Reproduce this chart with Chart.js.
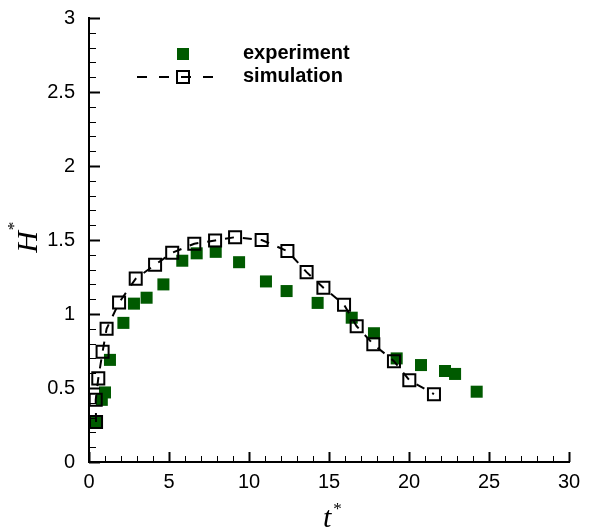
<!DOCTYPE html>
<html>
<head>
<meta charset="utf-8">
<script src="https://cdn.jsdelivr.net/npm/chart.js@4"></script>
<style>
  html, body { margin: 0; padding: 0; background: #fff; }
  canvas { display: block; }
</style>
</head>
<body>
<canvas id="chart" width="590" height="531"></canvas>
<script>
// data
const expT = [0.44, 0.8, 1.0, 1.31, 2.15, 2.81, 3.6, 4.65, 5.83, 6.73, 7.92, 9.38, 11.06, 12.35, 14.29, 16.42, 17.81, 19.23, 20.75, 22.25, 22.88, 24.23]
const expH = [0.27, 0.42, 0.47, 0.69, 0.94, 1.07, 1.11, 1.20, 1.36, 1.41, 1.42, 1.35, 1.22, 1.155, 1.075, 0.975, 0.87, 0.70, 0.655, 0.615, 0.595, 0.475]

const simT = [0.44, 0.42, 0.58, 0.85, 1.1, 1.88, 2.92, 4.13, 5.2, 6.58, 7.88, 9.13, 10.79, 12.4, 13.6, 14.65, 15.94, 16.73, 17.77, 19.06, 20.02, 21.56]
const simH = [0.27, 0.42, 0.565, 0.745, 0.90, 1.077, 1.239, 1.333, 1.414, 1.475, 1.497, 1.519, 1.50, 1.425, 1.283, 1.178, 1.063, 0.917, 0.796, 0.681, 0.553, 0.458]

const xTicks = [0, 5, 10, 15, 20, 25, 30]
const yTicks = [0, 0.5, 1, 1.5, 2, 2.5, 3]

const green = '#005a00'
const tickFont = { family: '"Liberation Sans", Arial, sans-serif', size: 20 }

const toPoints = (xs, ys) => xs.map((x, i) => ({ x: x, y: ys[i] }))

// inward ticks, axis titles and legend
const decor = {
  id: 'decor',
  afterDraw(chart) {
    const c = chart.ctx
    const xs = chart.scales.x
    const ys = chart.scales.y
    const area = chart.chartArea
    c.save()
    c.strokeStyle = '#000'
    // x ticks (minor every 1)
    for (let v = 0; v <= 30; v++) {
      const px = Math.round(xs.getPixelForValue(v)) + 0.5
      const major = v % 5 === 0
      c.lineWidth = major ? 2 : 1
      c.beginPath()
      c.moveTo(px, area.bottom)
      c.lineTo(px, area.bottom - (major ? 10 : 6))
      c.stroke()
    }
    // y ticks (minor every 0.1)
    for (let k = 0; k <= 30; k++) {
      const py = Math.round(ys.getPixelForValue(k / 10)) + 0.5
      const major = k % 5 === 0
      c.lineWidth = major ? 2 : 1
      c.beginPath()
      c.moveTo(area.left, py)
      c.lineTo(area.left + (major ? 11 : 7), py)
      c.stroke()
    }

    // axis titles
    c.fillStyle = '#000'
    c.textAlign = 'left'
    c.textBaseline = 'alphabetic'
    c.font = 'italic 30px "Liberation Serif", "Times New Roman", serif'
    const tw = c.measureText('t').width
    const tx = (area.left + area.right) / 2 - 6
    c.fillText('t', tx, 527)
    c.font = '17px "Liberation Serif", serif'
    c.fillText('*', tx + tw + 2, 514)

    c.save()
    c.translate(26, (area.top + area.bottom) / 2 + 2)
    c.rotate(-Math.PI / 2)
    c.font = 'italic 30px "Liberation Serif", "Times New Roman", serif'
    const hw = c.measureText('H').width
    c.fillText('H', -hw / 2, 11)
    c.font = '17px "Liberation Serif", serif'
    c.fillText('*', hw / 2 + 1, -7)
    c.restore()

    // legend
    c.fillStyle = green
    c.fillRect(177, 48, 12, 12)
    c.strokeStyle = '#000'
    c.lineWidth = 2
    c.setLineDash([10, 12])
    c.beginPath()
    c.moveTo(137, 77)
    c.lineTo(217, 77)
    c.stroke()
    c.setLineDash([])
    c.strokeRect(177, 71, 12, 12)
    c.fillStyle = '#000'
    c.font = 'bold 20px "Liberation Sans", Arial, sans-serif'
    c.textBaseline = 'middle'
    c.fillText('experiment', 243, 53)
    c.fillText('simulation', 243, 76)
    c.restore()
  }
}

const chart = new Chart(document.getElementById('chart'), {
  type: 'scatter',
  data: {
    datasets: [
      {
        label: 'simulation',
        data: toPoints(simT, simH),
        showLine: true,
        borderColor: '#000',
        borderWidth: 2,
        borderDash: [9, 9],
        pointStyle: 'rect',
        pointRadius: 8.5,
        pointBorderWidth: 2,
        pointBorderColor: '#000',
        pointBackgroundColor: 'rgba(0,0,0,0)',
        clip: false,
        order: 1
      },
      {
        label: 'experiment',
        data: toPoints(expT, expH),
        pointStyle: 'rect',
        pointRadius: 8.5,
        pointBorderWidth: 0,
        pointBackgroundColor: green,
        clip: false,
        order: 2
      }
    ]
  },
  options: {
    responsive: false,
    animation: false,
    devicePixelRatio: 1,
    layout: { padding: { left: 0, right: 21, top: 17, bottom: 0 } },
    plugins: {
      legend: { display: false },
      tooltip: { enabled: false }
    },
    scales: {
      x: {
        type: 'linear',
        min: 0,
        max: 30,
        afterBuildTicks: s => { s.ticks = xTicks.map(v => ({ value: v })) },
        afterFit: s => { s.height = 69 },
        ticks: { font: tickFont, color: '#000', padding: 0, autoSkip: false, maxRotation: 0, callback: v => String(v) },
        grid: { display: false },
        border: { display: true, color: '#000', width: 2 }
      },
      y: {
        type: 'linear',
        min: 0,
        max: 3,
        afterBuildTicks: s => { s.ticks = yTicks.map(v => ({ value: v })) },
        afterFit: s => { s.width = 89 },
        ticks: { font: tickFont, color: '#000', padding: 6, autoSkip: false, callback: v => String(v) },
        grid: { display: false },
        border: { display: true, color: '#000', width: 2 }
      }
    }
  },
  plugins: [decor]
})
</script>
</body>
</html>
